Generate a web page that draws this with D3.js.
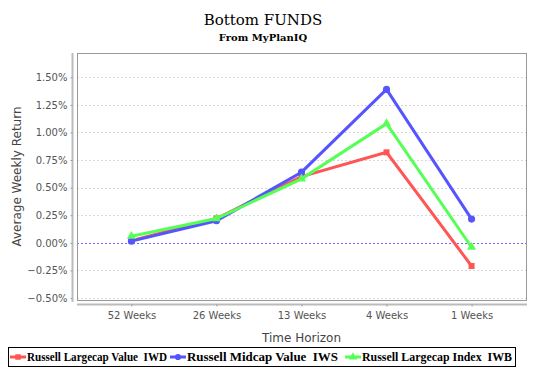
<!DOCTYPE html>
<html>
<head>
<meta charset="utf-8">
<script src="https://cdn.jsdelivr.net/npm/d3@7"></script>
<style>
  body { margin: 0; background: #fff; }
  svg { display: block; }
</style>
</head>
<body>
<svg id="chart" width="534" height="378"></svg>
<script>
// chart data
const categories = ['52 Weeks', '26 Weeks', '13 Weeks', '4 Weeks', '1 Weeks'];
const seriesNames = ['Russell Largecap Value  IWD', 'Russell Midcap Value  IWS', 'Russell Largecap Index  IWB'];
const largecapValue = [0.02, 0.22, 0.60, 0.82, -0.21];
const midcapValue = [0.015, 0.20, 0.64, 1.39, 0.215];
const largecapIndex = [0.06, 0.22, 0.58, 1.08, -0.04];
const yTicks = [-0.5, -0.25, 0, 0.25, 0.5, 0.75, 1.0, 1.25, 1.5];

const colors = ['#ff5555', '#5555ff', '#55ff55'];
const symbols = [d3.symbolSquare, d3.symbolCircle, d3.symbolTriangle];
const series = [largecapValue, midcapValue, largecapIndex];

const svg = d3.select('#chart');
const plot = { left: 77, right: 526, top: 53, bottom: 300 };

const x = d3.scalePoint()
  .domain(categories)
  .range([plot.left, plot.right])
  .padding(0.64);

const y = d3.scaleLinear()
  .domain([-0.5, 1.72])
  .range([plot.bottom - 2, plot.top]);

// titles
svg.append('text')
  .attr('x', 263).attr('y', 25)
  .attr('text-anchor', 'middle')
  .style('font-family', 'DejaVu Serif')
  .style('font-size', '15px')
  .text('Bottom FUNDS');

svg.append('text')
  .attr('x', 263).attr('y', 41)
  .attr('text-anchor', 'middle')
  .style('font-family', 'DejaVu Serif')
  .style('font-size', '10px')
  .style('font-weight', 'bold')
  .text('From MyPlanIQ');

// grid lines
svg.append('g')
  .selectAll('line')
  .data(yTicks)
  .join('line')
  .attr('x1', plot.left).attr('x2', plot.right)
  .attr('y1', d => Math.round(y(d)) + 0.5)
  .attr('y2', d => Math.round(y(d)) + 0.5)
  .attr('stroke', d => d === 0 ? '#6a6aff' : '#d8d8d8')
  .attr('stroke-width', 1)
  .attr('stroke-dasharray', '2,2');

// plot frame
svg.append('rect')
  .attr('x', plot.left + 0.5).attr('y', plot.top + 0.5)
  .attr('width', plot.right - plot.left)
  .attr('height', plot.bottom - plot.top)
  .attr('fill', 'none')
  .attr('stroke', '#999')
  .attr('stroke-width', 1);

// y axis
const yAxis = svg.append('g')
  .attr('transform', `translate(${plot.left - 4.5},0)`)
  .call(d3.axisLeft(y).tickValues(yTicks).tickSize(2).tickPadding(3)
    .tickFormat(d => d3.format('.2f')(d) + '%'));
yAxis.select('.domain').attr('stroke', '#bbb').attr('stroke-width', 2)
  .attr('d', `M0,${plot.top}V${plot.bottom + 2}`);
yAxis.selectAll('.tick line').attr('stroke', '#999');
yAxis.selectAll('text')
  .style('font-family', 'DejaVu Sans')
  .style('font-size', '10px')
  .attr('fill', '#555');

// x axis
const xAxis = svg.append('g')
  .attr('transform', `translate(0,${plot.bottom + 4.5})`)
  .call(d3.axisBottom(x).tickSize(2).tickPadding(5));
xAxis.select('.domain').attr('stroke', '#bbb').attr('stroke-width', 2)
  .attr('d', `M${plot.left},0H${plot.right + 1}`);
xAxis.selectAll('.tick line').attr('stroke', '#999');
xAxis.selectAll('text')
  .style('font-family', 'DejaVu Sans')
  .style('font-size', '10px')
  .attr('fill', '#555');

// axis titles
svg.append('text')
  .attr('x', (plot.left + plot.right) / 2).attr('y', 342)
  .attr('text-anchor', 'middle')
  .style('font-family', 'DejaVu Sans')
  .style('font-size', '12px')
  .attr('fill', '#444')
  .text('Time Horizon');

svg.append('text')
  .attr('transform', `translate(21,${(plot.top + plot.bottom) / 2}) rotate(-90)`)
  .attr('text-anchor', 'middle')
  .style('font-family', 'DejaVu Sans')
  .style('font-size', '12px')
  .attr('fill', '#444')
  .text('Average Weekly Return');

// lines and markers
const line = d3.line()
  .x((d, i) => x(categories[i]))
  .y(d => y(d));

series.forEach((vals, s) => {
  svg.append('path')
    .datum(vals)
    .attr('d', line)
    .attr('fill', 'none')
    .attr('stroke', colors[s])
    .attr('stroke-width', 3);
  svg.append('g')
    .selectAll('path')
    .data(vals)
    .join('path')
    .attr('transform', (d, i) => `translate(${x(categories[i])},${y(d)})`)
    .attr('d', d3.symbol().type(symbols[s]).size(s === 1 ? 40 : 36))
    .attr('fill', colors[s]);
});

// legend
const legend = svg.append('g');
legend.append('rect')
  .attr('x', 8.5).attr('y', 347.5)
  .attr('width', 507).attr('height', 19)
  .attr('fill', '#fff')
  .attr('stroke', '#000');

const legendX = [10, 170, 345];
const legendW = 138;
seriesNames.forEach((name, s) => {
  const g = legend.append('g').attr('transform', `translate(${legendX[s]},357)`);
  g.append('line')
    .attr('x1', 0).attr('x2', 16)
    .attr('stroke', colors[s]).attr('stroke-width', 3);
  g.append('path')
    .attr('transform', 'translate(8,0)')
    .attr('d', d3.symbol().type(symbols[s]).size(30))
    .attr('fill', colors[s]);
  g.append('text')
    .attr('x', 17).attr('y', 4)
    .style('font-family', 'Liberation Serif')
    .style('font-size', '11.5px')
    .style('font-weight', 'bold')
    .style('white-space', 'pre')
    .attr('textLength', s === 1 ? 151 : legendW + (s === 2 ? 12 : 2))
    .attr('lengthAdjust', 'spacingAndGlyphs')
    .text(name);
});
</script>
</body>
</html>
